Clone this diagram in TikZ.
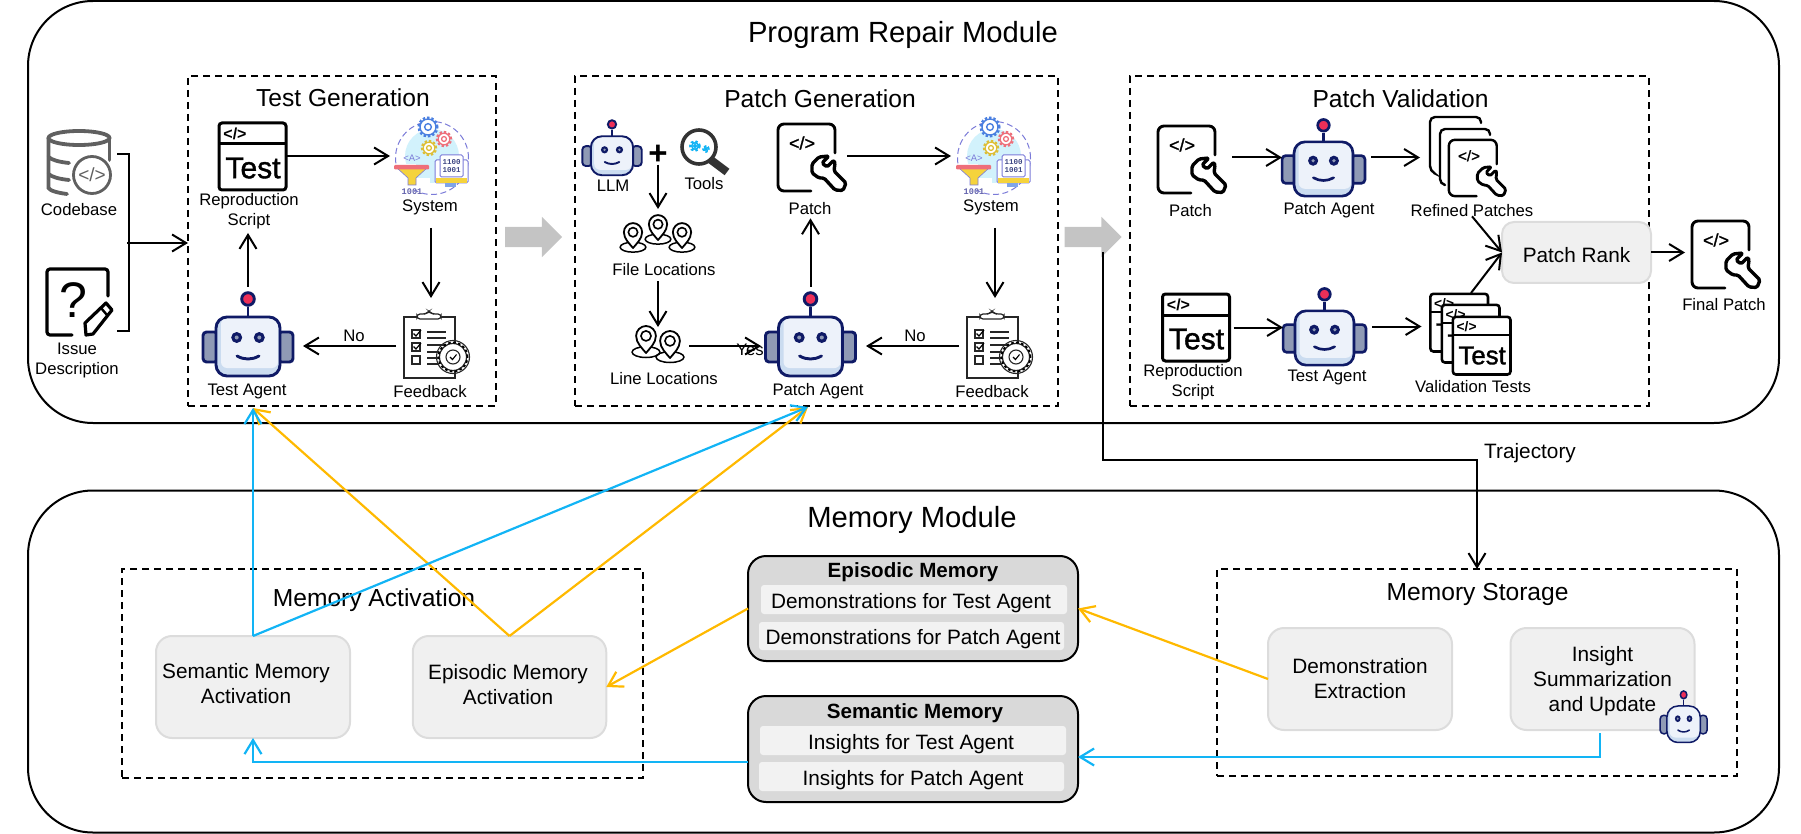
\documentclass[tikz,border=0pt]{standalone}
\usepackage{fontspec}
\setmainfont{Liberation Sans}
\setmonofont{Liberation Mono}
\newfontfamily\semib[FakeBold=1.3]{Liberation Sans}
\usetikzlibrary{arrows.meta,shapes.arrows,calc}
\definecolor{navy}{HTML}{0F1A66}
\definecolor{earg}{HTML}{8F9AB5}
\definecolor{facel}{HTML}{EDF2FA}
\definecolor{faces}{HTML}{CBDCF0}
\definecolor{redb}{HTML}{EE2F58}
\definecolor{boxf}{HTML}{F0F0F0}
\definecolor{boxs}{HTML}{DCDCDC}
\definecolor{memf}{HTML}{D9D9D9}
\definecolor{rowf}{HTML}{F2F2F2}
\definecolor{cblue}{HTML}{12B4F5}
\definecolor{cyellow}{HTML}{FFB900}
\definecolor{blockg}{HTML}{C4C4C4}
\definecolor{lilac}{HTML}{7B7BD8}
\definecolor{sysb}{HTML}{D2F2FC}
\definecolor{gearb}{HTML}{4A7FE0}
\definecolor{gearr}{HTML}{EE6F7A}
\definecolor{geary}{HTML}{F5D33C}
\definecolor{cbgray}{HTML}{606060}
\tikzset{
  x=1pt,y=-1pt,
  modbox/.style={draw=black,line width=2pt,rounded corners=65pt,inner sep=0,outer sep=0},
  groupbox/.style={draw=black,line width=2pt,dash pattern=on 7pt off 5pt,inner sep=0,outer sep=0},
  softbox/.style={draw=boxs,fill=boxf,line width=2pt,rounded corners=16pt,inner sep=0,outer sep=0,align=center,font=\fontsize{20.8}{25}\selectfont},
  softtext/.style={inner sep=0,outer sep=0,align=center,font=\fontsize{20.8}{25}\selectfont},
  membox/.style={draw=black,fill=memf,line width=2pt,rounded corners=18pt,inner sep=0,outer sep=0},
  rowbox/.style={fill=rowf,rounded corners=3pt,inner sep=0,outer sep=0},
  iconbox/.style={inner sep=0,outer sep=0},
  lab/.style={inner sep=0,outer sep=0,yshift=-1.2pt,align=center,font=\fontsize{16.7}{20}\selectfont},
  title/.style={inner sep=0,outer sep=0,font=\fontsize{24.6}{30}\selectfont},
  bigtitle/.style={inner sep=0,outer sep=0,font=\fontsize{29.2}{35}\selectfont},
  boldtitle/.style={inner sep=0,outer sep=0,font=\bfseries\fontsize{20.6}{25}\selectfont},
  conn/.style={draw=black,line width=2pt,-{Straight Barb[length=14pt,width=17pt,line width=2pt]}},
  blueconn/.style={draw=cblue,line width=2.2pt,-{Straight Barb[length=14pt,width=17pt,line width=2.2pt]}},
  yellowconn/.style={draw=cyellow,line width=2.2pt,-{Straight Barb[length=14pt,width=17pt,line width=2.2pt]}},
  blockarrow/.style={single arrow,anchor=tail,fill=blockg,draw=none,inner sep=10pt,outer sep=0,minimum width=40pt,minimum height=57pt,single arrow head extend=10pt,single arrow tip angle=90},
}
% icon placeholder, given by its top-left corner and size
\newcommand\iconnode[5]{\node[iconbox,minimum width=#4pt,minimum height=#5pt] (#1) at ({#2+#4/2},{#3+#5/2}) {};}
% robot, by its centre and scale; the optional factor stretches it in height
\newcommand\robotat[4][1]{%
\begin{scope}[shift={(#2,#3)},scale=#4,yscale=#1]
  \pgfmathsetmacro\rl{2.9*#4}
  \draw[navy,fill=earg,line width=\rl pt,rounded corners=3.5pt] (-45,-2) rectangle (-30,28);
  \draw[navy,fill=earg,line width=\rl pt,rounded corners=3.5pt] (30,-2) rectangle (45,28);
  \draw[navy,line width=\rl pt] (0,-27) -- (0,-18);
  \draw[navy,fill=redb,line width=\rl pt] (0,-35) circle[radius=6.3pt];
  \fill[faces,rounded corners=11pt] (-32,-17) rectangle (32,42);
  \fill[facel,rounded corners=6pt] (-27,-16) rectangle (30,34);
  \draw[navy,line width=\rl pt,rounded corners=11pt] (-32,-17) rectangle (32,42);
  \fill[navy] (-11.3,3.5) circle[radius=5.5pt];
  \fill[navy] (11.3,3.5) circle[radius=5.5pt];
  \fill[earg] (-11.3,3.5) circle[radius=2pt];
  \fill[earg] (11.3,3.5) circle[radius=2pt];
  \draw[navy,line width=\rl pt,line cap=round] (-11,22) .. controls (-4,26) and (4,26) .. (11,22);
\end{scope}}
% wrench-and-document, by top-left corner and scale (70 px at scale 1)
\newcommand\patchicon[3]{%
\begin{scope}[shift={(#1,#2)},scale=#3]
  \pgfmathsetmacro\pl{2.9*#3}
  \pgfmathsetmacro\wl{3.4*#3}
  \draw[black,line width=\pl pt,rounded corners=6pt,line cap=round] (58,30) -- (58,1) -- (1,1) -- (1,68) -- (34,68);
  \node[transform shape,inner sep=0,font=\semib\fontsize{18}{18}\selectfont] at (25,20) {</>};
  \draw[black,fill=white,line width=\wl pt,rounded corners=1.6pt,line join=round]
    (52,33) -- (42,34) -- (35,41) -- (35,50) -- (42,55) -- (47,55) -- (58,67) -- (66,67.5) -- (69,60) -- (57,48) -- (58,40) -- (57,37) -- (50,44) -- (45,40) -- cycle;
\end{scope}}
% test document, by top-left corner and scale (69 px at scale 1)
\newcommand\testicon[3]{%
\begin{scope}[shift={(#1,#2)},scale=#3]
  \pgfmathsetmacro\tl{3*#3}
  \draw[black,fill=white,line width=\tl pt,rounded corners=3pt] (1,1) rectangle (68,68);
  \draw[black,line width=\tl pt] (1,22) -- (68,22);
  \node[transform shape,inner sep=0,font=\bfseries\fontsize{16}{16}\selectfont] at (17,12) {</>};
  \node[transform shape,inner sep=0,font=\semib\fontsize{30}{30}\selectfont,text=black] at (35,46) {Test};
\end{scope}}
\newcommand\gearat[5]{%
  \draw[#4,line width=#5*1.6pt,dash pattern=on 2.4pt off 2pt] (#1,#2) circle[radius=#3*1pt+#5*1pt];
  \draw[#4,fill=white,line width=#5*1pt] (#1,#2) circle[radius=#3*1pt];
  \draw[#4,line width=#5*1pt] (#1,#2) circle[radius=#3*.42pt];}
\newcommand\systemicon[2]{%
\begin{scope}[shift={(#1,#2)}]
  \fill[sysb] (38,40) circle[radius=27pt];
  \draw[lilac,line width=1pt,dash pattern=on 6pt off 3.5pt] (38,42) circle[radius=36.5pt];
  \gearat{34}{11}{8}{gearb}{1.4}
  \gearat{50}{23}{5.8}{gearr}{1.3}
  \gearat{35}{32}{5.8}{geary!90!black}{1.3}
  \node[inner sep=0,text=lilac,font=\fontsize{9.5}{10}\selectfont] at (18,42) {<A>};
  \fill[white] (0,48) rectangle (36,74);
  \fill[sysb] (22,48) rectangle (36,62);
  \fill[geary] (3,52) -- (33,52) -- (22,62) -- (22,69) -- (14,69) -- (14,62) -- cycle;
  \draw[lilac,line width=.6pt] (3,52) -- (14,62) -- (14,69) -- (22,69) -- (22,62) -- (33,52);
  \fill[gearr,rounded corners=1pt] (0,49) rectangle (35,53.5);
  \draw[lilac,fill=white,line width=1pt,rounded corners=1.5pt] (41,44) rectangle (74,67);
  \fill[geary] (42,62) rectangle (73,67);
  \fill[gearb!70] (51,67) rectangle (62,71);
  \draw[lilac,fill=white,line width=1pt,rounded corners=1.5pt] (46,39) rectangle (69,61);
  \node[inner sep=0,align=center,text=navy!80,font=\ttfamily\bfseries\fontsize{7.5}{8}\selectfont] at (57.5,50) {1100\\1001};
  \node[inner sep=0,text=lilac!80!black,font=\ttfamily\bfseries\fontsize{8.6}{9}\selectfont] at (18,76) {1001};
\end{scope}}
\newcommand\feedbackicon[2]{%
\begin{scope}[shift={(#1,#2)}]
  \draw[black!85,line width=1.2pt] (1,7) rectangle (52,68);
  \draw[black!85,fill=white,line width=1.2pt,rounded corners=3pt] (14,9) -- (14,4) -- (23,4) -- (26,1) -- (29,4) -- (38,4) -- (38,9) -- cycle;
  \foreach \yy in {24,37,50} {\draw[black!85,line width=1.2pt] (9,\yy-4) rectangle (17,\yy+4);}
  \draw[black,line width=1.2pt] (10.5,23.5) -- (13,26) -- (18,20);
  \draw[black,line width=1.2pt] (10.5,36.5) -- (13,39) -- (18,33);
  \foreach \yy/\xx in {22/43,28/43,35/43,42/36,48/36,54/36} {\draw[black!85,line width=1.2pt] (24,\yy) -- (\xx,\yy);}
  \draw[black!85,fill=white,line width=1.2pt] (50,47) circle[radius=13.5pt];
  \draw[black,line width=1.8pt,dash pattern=on 2.6pt off 2.4pt] (50,47) circle[radius=14.5pt];
  \draw[black!85,line width=1.1pt] (50,47) circle[radius=16.5pt];
  \draw[black!85,fill=white,line width=1.1pt] (50,47) circle[radius=7pt];
  \draw[black,line width=1.1pt] (47,47) -- (49.5,49.5) -- (53.5,44.5);
\end{scope}}
\newcommand\pinat[3]{%
\begin{scope}[shift={(#1,#2)},scale=#3]
  \draw[black,line width=1.5pt] (0,-1) ellipse[x radius=15.5pt,y radius=6pt];
  \draw[black,fill=white,line width=1.8pt,line join=round] (0,0) .. controls (-4,-5) and (-11,-11) .. (-11,-19) .. controls (-11,-25) and (-6,-30) .. (0,-30) .. controls (6,-30) and (11,-25) .. (11,-19) .. controls (11,-11) and (4,-5) .. (0,0) -- cycle;
  \draw[black,line width=1.6pt] (0,-19) circle[radius=5.6pt];
\end{scope}}
\begin{document}
\begin{tikzpicture}
\useasboundingbox (0,0) rectangle (1801,834);
% modules
\node[modbox,minimum width=1751pt,minimum height=422pt] (prm) at (903.5,212) {};
\node[modbox,minimum width=1751pt,minimum height=342pt] (mem) at (903.5,661.5) {};
\node[bigtitle] (prmt) at (903,34.5) {Program Repair Module};
\node[bigtitle] (memt) at (912,519.5) {Memory Module};
% groups
\node[groupbox,minimum width=308pt,minimum height=330pt] (tgen) at (342,241) {};
\node[groupbox,minimum width=483pt,minimum height=330pt] (pgen) at (816.5,241) {};
\node[groupbox,minimum width=519pt,minimum height=330pt] (pval) at (1389,241) {};
\node[groupbox,minimum width=521pt,minimum height=209pt] (mact) at (382.5,673.5) {};
\node[groupbox,minimum width=520pt,minimum height=207pt] (msto) at (1477,672.5) {};
\node[title] (tgent) at (343,98) {Test Generation};
\node[title] (pgent) at (820,98.5) {Patch Generation};
\node[title] (pvalt) at (1400.5,98.5) {Patch Validation};
\node[title] (mactt) at (374,600) {Memory Activation};
\node[title] (mstot) at (1477.6,594) {Memory Storage};
% block arrows
\node[blockarrow] (ga1) at (505,237) {};
\node[blockarrow] (ga2) at (1064.5,237) {};
% inputs
\iconnode{cb}{47}{130}{65}{65}
\begin{scope}[shift={(47,130)}]
  \draw[cbgray,line width=3.8pt] (32,8) ellipse[x radius=30.5pt,y radius=7pt];
  \draw[cbgray,line width=3.8pt,line cap=round] (1.5,8) -- (1.5,58) .. controls (3,61) and (12,63) .. (20,64);
  \draw[cbgray,line width=3.8pt,line cap=round] (62.5,8) -- (62.5,30);
  \draw[cbgray,line width=3.8pt,line cap=round] (1.5,27) .. controls (5,30) and (12,32) .. (22,33);
  \draw[cbgray,line width=3.8pt,line cap=round] (1.5,44) .. controls (5,47) and (12,49) .. (22,50);
  \draw[cbgray,fill=white,line width=2.8pt] (45,45) circle[radius=18.5pt];
  \node[inner sep=0,text=cbgray,font=\fontsize{19}{19}\selectfont] at (45,45) {</>};
\end{scope}
\node[lab] (cbl) at (79,208) {Codebase};
\iconnode{iss}{46}{268}{67}{69}
\begin{scope}[shift={(46,268)}]
  \draw[black,line width=3.2pt,rounded corners=3pt,line cap=round] (62,28) -- (62,1) -- (1,1) -- (1,67) -- (26,67);
  \node[inner sep=0,font=\fontsize{50}{50}\selectfont] at (27,32) {?};
  \draw[black,line width=3.2pt,line join=round,fill=white] (40,67) -- (39,55) -- (60,35) -- (66,42) -- (47,66) -- cycle;
  \draw[black,line width=2.4pt] (55,40) -- (61,47);
\end{scope}
\node[lab] (issl) at (77,359) {Issue\\Description};
\coordinate (brtop) at (117,154);
\coordinate (brbot) at (117,331);
\coordinate (brmid) at (127,243);
\draw[black,line width=1.8pt] (brtop) -- ++(12,0) -- ($(brbot)+(12,0)$) -- (brbot);
\draw[conn] (brmid) -- (brmid -| tgen.west);
% test generation
\iconnode{td1}{218}{122}{69}{69}
\testicon{218}{122}{1}
\node[lab] (td1l) at (249,210) {Reproduction\\Script};
\iconnode{sy1}{394}{116}{74}{80}
\systemicon{394}{116}
\node[lab] (sy1l) at (430,206) {System};
\iconnode{fb1}{403}{310}{69}{68}
\feedbackicon{403}{310}
\node[lab] (fb1l) at (430,390) {Feedback};
\iconnode{rb1}{203}{291}{90}{86}
\robotat{248}{334}{1}
\node[lab] (rb1l) at (247,390) {Test Agent};
\draw[conn,shorten >=4pt] (td1.east |- sy1.west) -- (sy1.west);
\draw[conn,shorten <=32pt,shorten >=12pt] (sy1.south) -- (sy1.south |- fb1.north);
\draw[conn,shorten <=7pt,shorten >=10pt] ([yshift=-2pt]fb1.west) -- ([yshift=-2pt]fb1.west -| rb1.east);
\node[lab] (no1) at (354,335) {No};
\draw[conn,shorten <=4pt,shorten >=4pt] (rb1.north) -- (rb1.north |- td1l.south);
% patch generation
\iconnode{rb2}{582}{119}{59}{57}
\robotat{612}{147.5}{.66}
\node[lab] (rb2l) at (613,185) {LLM};
\node[inner sep=0,outer sep=0,font=\bfseries\fontsize{33}{33}\selectfont] (plus) at (658,155) {+};
\iconnode{tl}{680}{128}{50}{45}
\begin{scope}[shift={(680,128)}]
  \draw[black!80,line width=8pt] (27,29) -- (47,44);
  \draw[black!80,fill=white,line width=3.6pt] (19,19) circle[radius=17pt];
  \gearat{15}{18}{3.2}{cblue}{1.5}
  \gearat{26}{21}{2}{cblue}{1}
\end{scope}
\node[lab] (tll) at (704,182) {Tools};
\iconnode{fl}{620}{217}{75}{36}
\pinat{633}{248}{.83}
\pinat{682}{248}{.83}
\pinat{658}{240}{.83}
\node[lab] (fll) at (664,268) {File Locations};
\iconnode{ll}{633}{327}{50}{36}
\pinat{646}{353}{.9}
\pinat{670}{358}{.9}
\node[lab] (lll) at (664,377) {Line Locations};
\iconnode{rb3}{765}{291}{91}{86}
\robotat{810.5}{334}{1}
\node[lab] (rb3l) at (818,390) {Patch Agent};
\iconnode{pa1}{777}{123}{70}{70}
\patchicon{777}{123}{1}
\node[lab] (pa1l) at (810,207) {Patch};
\iconnode{sy2}{956}{116}{74}{80}
\systemicon{956}{116}
\node[lab] (sy2l) at (991,206) {System};
\iconnode{fb2}{966}{310}{69}{68}
\feedbackicon{966}{310}
\node[lab] (fb2l) at (992,390) {Feedback};
\draw[conn,shorten >=8pt] (plus.south) -- (plus.south |- fl.north);
\draw[conn] ($(plus.south |- fll.south)+(0,6)$) -- (plus.south |- ll.north);
\draw[conn,shorten <=6pt,shorten >=4pt] ([yshift=-1pt]ll.east) -- ([yshift=-1pt]ll.east -| rb3.west);
\node[lab] (yes) at (750,349) {Yes};
\draw[conn,shorten <=4pt,shorten >=4pt] (rb3.north) -- (rb3.north |- pa1l.south);
\draw[conn,shorten >=5pt] (pa1.east |- sy2.west) -- (sy2.west);
\draw[conn,shorten <=32pt,shorten >=12pt] ([xshift=2pt]sy2.south) -- ([xshift=2pt]sy2.south |- fb2.north);
\draw[conn,shorten <=7pt,shorten >=10pt] ([yshift=-2pt]fb2.west) -- ([yshift=-2pt]fb2.west -| rb3.east);
\node[lab] (no2) at (915,335) {No};
% patch validation
\iconnode{pa2}{1157}{125}{70}{70}
\patchicon{1157}{125}{1}
\node[lab] (pa2l) at (1190.5,209) {Patch};
\iconnode{rb4}{1282}{118}{83}{79}
\robotat{1323.5}{157.5}{.92}
\node[lab] (rb4l) at (1329,209) {Patch Agent};
\iconnode{rf}{1430}{117}{78}{79}
\draw[black,line width=2.4pt,rounded corners=5pt,line cap=round] (1481,123) -- (1481,117) -- (1430,117) -- (1430,171) -- (1434,173);
\draw[black,fill=white,line width=2.4pt,rounded corners=5pt,line cap=round] (1490,135) -- (1490,129) -- (1440,129) -- (1440,184) -- (1445,185);
\fill[white] (1448,139) rectangle (1508,196);
\patchicon{1448}{139}{.84}
\node[lab] (rfl) at (1472,209) {Refined Patches};
\node[softbox,minimum width=149pt,minimum height=61pt,rounded corners=12pt] (rank) at (1576.5,252.5) {};
\node[softtext] (rankl) at (1576.5,255) {Patch Rank};
\iconnode{pa3}{1691}{220}{69}{69}
\patchicon{1691}{220}{1}
\node[lab] (pa3l) at (1724,303) {Final Patch};
\iconnode{td2}{1161.5}{293}{69}{69}
\testicon{1161.5}{293}{1}
\node[lab] (td2l) at (1193,381) {Reproduction\\Script};
\iconnode{rb5}{1283}{287}{83}{79}
\robotat{1324.5}{326.5}{.92}
\node[lab] (rb5l) at (1327,376) {Test Agent};
\iconnode{vt}{1429.5}{293}{83}{81}
\testicon{1429.5}{293}{.86}
\testicon{1441}{304}{.86}
\testicon{1452}{316}{.86}
\node[lab] (vtl) at (1473,385) {Validation Tests};
\draw[conn,shorten <=5pt] (pa2.east |- rb4.west) -- (rb4.west);
\draw[conn,shorten <=6pt,shorten >=10pt] (rb4.east) -- (rb4.east -| rf.west);
\draw[conn] (rfl.south) -- (rank.west);
\draw[conn] (vt.north) -- (rank.west);
\draw[conn,shorten >=6pt] (rank.east) -- (rank.east -| pa3.west);
\draw[conn,shorten <=3pt] (td2.east) -- (td2.east -| rb5.west);
\draw[conn,shorten <=6pt,shorten >=8pt] (rb5.east) -- (rb5.east -| vt.west);
% memory activation
\node[softbox,minimum width=194pt,minimum height=102pt] (sact) at (253,687) {};
\node[softbox,minimum width=193.5pt,minimum height=102pt] (eact) at (509.5,687) {};
\node[softtext] (sactl) at (246,683.5) {Semantic Memory\\Activation};
\node[softtext] (eactl) at (508,685) {Episodic Memory\\Activation};
% memories
\node[membox,minimum width=330pt,minimum height=105pt] (epi) at (913,608.5) {};
\node[boldtitle] (epit) at (913,572) {Episodic Memory};
\node[rowbox,minimum width=306pt,minimum height=29pt] (epi1) at (914,599.5) {};
\node[softtext] (epi1l) at (911,603) {Demonstrations for Test Agent};
\node[rowbox,minimum width=305pt,minimum height=28pt] (epi2) at (911.5,636) {};
\node[softtext] (epi2l) at (913,639) {Demonstrations for Patch Agent};
\node[membox,minimum width=330pt,minimum height=106pt] (sem) at (913,749) {};
\node[boldtitle] (semt) at (915,713) {Semantic Memory};
\node[rowbox,minimum width=306pt,minimum height=29pt] (sem1) at (913,740.5) {};
\node[softtext] (sem1l) at (911,744) {Insights for Test Agent};
\node[rowbox,minimum width=305pt,minimum height=29pt] (sem2) at (911.5,776.5) {};
\node[softtext] (sem2l) at (913,780) {Insights for Patch Agent};
% memory storage
\node[softbox,minimum width=184pt,minimum height=102pt] (demo) at (1360,679) {Demonstration\\Extraction};
\node[softbox,minimum width=184pt,minimum height=102pt] (ins) at (1602.5,679) {};
\node[softtext] (insl) at (1602.5,681) {Insight\\Summarization\\and Update};
\robotat[1.19]{1683.6}{716.5}{.52}
% trajectory
\coordinate (trajstart) at (1103,252);
\coordinate (trajturn) at (1477,460);
\draw[conn] (trajstart) |- (trajturn) -- (trajturn |- msto.north);
\node[softtext] (trajl) at (1530,453) {Trajectory};
% memory connectors
\coordinate (ta) at (253,408);
\coordinate (pa) at (808,407);
\draw[yellowconn] (demo.west) -- (epi.east);
\draw[yellowconn] (epi.west) -- (eact.east);
\draw[blueconn,shorten <=3pt] ([xshift=-2.5pt]ins.south) |- ([yshift=-8pt]sem.east);
\draw[blueconn] ([yshift=-13pt]sem.west) -| (sact.south);
\draw[yellowconn] (eact.north) -- (ta);
\draw[yellowconn] (eact.north) -- (pa);
\draw[blueconn] (sact.north) -- (ta);
\draw[blueconn] (sact.north) -- (pa);
\end{tikzpicture}
\end{document}
